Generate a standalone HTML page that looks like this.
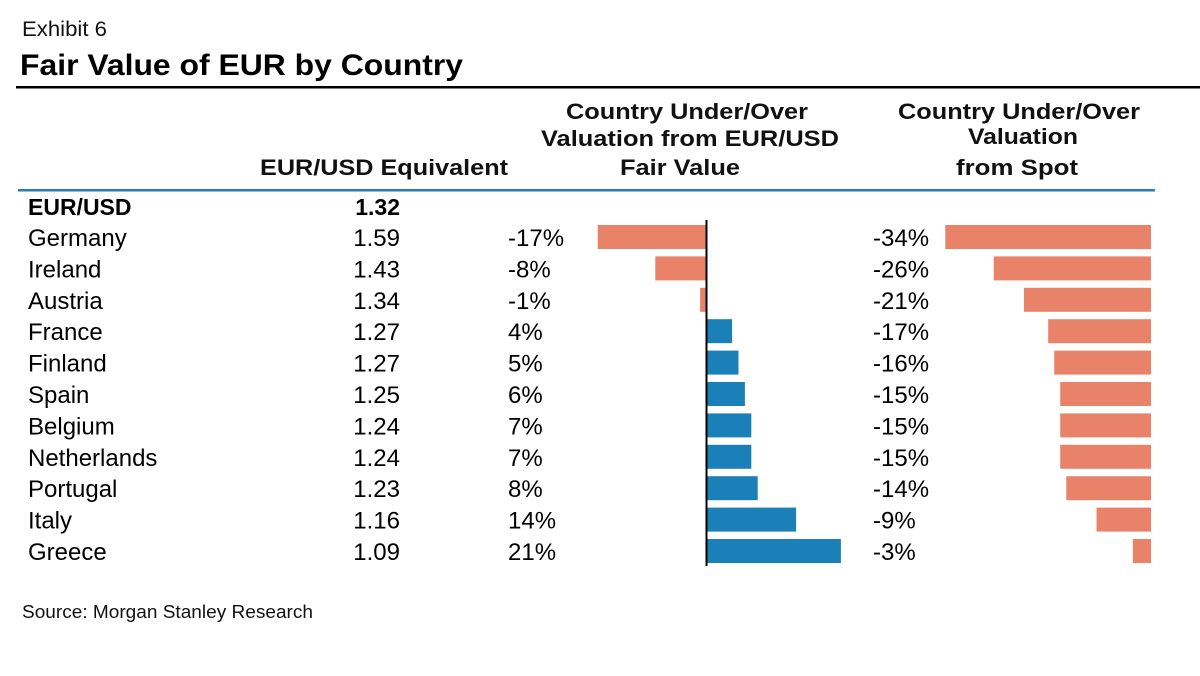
<!DOCTYPE html>
<html><head><meta charset="utf-8"><style>
body{margin:0;background:#fff}
svg{display:block;font-family:"Liberation Sans",Arial,sans-serif}
</style></head><body>
<svg id="c" width="1200" height="676" viewBox="0 0 1200 676">
<text x="22" y="36" font-size="21" fill="#111" textLength="85" lengthAdjust="spacingAndGlyphs">Exhibit 6</text>
<text x="20" y="75" font-size="30" font-weight="bold" fill="#000" textLength="443" lengthAdjust="spacingAndGlyphs">Fair Value of EUR by Country</text>
<rect x="16" y="86" width="1184" height="2.5" fill="#000"/>
<g font-size="22" font-weight="bold" fill="#111" text-anchor="middle">
<text x="384" y="175" textLength="248" lengthAdjust="spacingAndGlyphs">EUR/USD Equivalent</text>
<text x="687" y="119" textLength="242" lengthAdjust="spacingAndGlyphs">Country Under/Over</text>
<text x="690" y="146" textLength="298" lengthAdjust="spacingAndGlyphs">Valuation from EUR/USD</text>
<text x="680" y="175" textLength="120" lengthAdjust="spacingAndGlyphs">Fair Value</text>
<text x="1019" y="119" textLength="242" lengthAdjust="spacingAndGlyphs">Country Under/Over</text>
<text x="1023" y="144" textLength="110" lengthAdjust="spacingAndGlyphs">Valuation</text>
<text x="1017" y="175" textLength="122" lengthAdjust="spacingAndGlyphs">from Spot</text>
</g>
<rect x="18" y="189" width="1137" height="2.5" fill="#2a7bb0"/>
<text x="28" y="215" font-size="23" font-weight="bold" fill="#000">EUR/USD</text>
<text x="400" y="215" font-size="23" font-weight="bold" fill="#000" text-anchor="end">1.32</text>
<g id="rows"></g>
<text x="22" y="618" font-size="18" fill="#111" textLength="291" lengthAdjust="spacingAndGlyphs">Source: Morgan Stanley Research</text>
</svg>
<script>
const countries=["Germany","Ireland","Austria","France","Finland","Spain","Belgium","Netherlands","Portugal","Italy","Greece"];
const equivalent=["1.59","1.43","1.34","1.27","1.27","1.25","1.24","1.24","1.23","1.16","1.09"];
const fairValuePct=[-17,-8,-1,4,5,6,7,7,8,14,21];
const spotPct=[-34,-26,-21,-17,-16,-15,-15,-15,-14,-9,-3];
const NS="http://www.w3.org/2000/svg";
const g=document.getElementById('rows');
const rowY=i=>237+i*31.4;
const fvX=v=>706.5+v*6.4;
const spX=v=>1151+v*6.05;
function mk(t,a){const e=document.createElementNS(NS,t);for(const k in a)e.setAttribute(k,a[k]);g.appendChild(e);return e;}
countries.forEach((c,i)=>{
 const y=rowY(i);
 let t=mk('text',{x:28,y:y+9,'font-size':24,fill:'#000'});t.textContent=c;
 
 
 t=mk('text',{x:400,y:y+9,'font-size':24,fill:'#000','text-anchor':'end'});t.textContent=equivalent[i];
 
 
 const fv=fairValuePct[i];
 t=mk('text',{x:508,y:y+9,'font-size':24,fill:'#000'});t.textContent=fv+'%';
 
 
 const x0=Math.min(fvX(0),fvX(fv)),w=Math.abs(fvX(fv)-fvX(0));
 let r=mk('rect',{x:x0,y:y-12,width:w,height:24,fill:fv<0?'#e8836a':'#1b80b7'});
 
 
 const sp=spotPct[i];
 t=mk('text',{x:873,y:y+9,'font-size':24,fill:'#000'});t.textContent=sp+'%';
 
 
 const s0=Math.min(spX(0),spX(sp)),sw=Math.abs(spX(sp)-spX(0));
 r=mk('rect',{x:s0,y:y-12,width:sw,height:24,fill:sp<0?'#e8836a':'#1b80b7'});
 
 
});
const ax=mk('rect',{x:fvX(0)-1,y:220,width:2,height:346,fill:'#000'});


</script>
</body></html>
